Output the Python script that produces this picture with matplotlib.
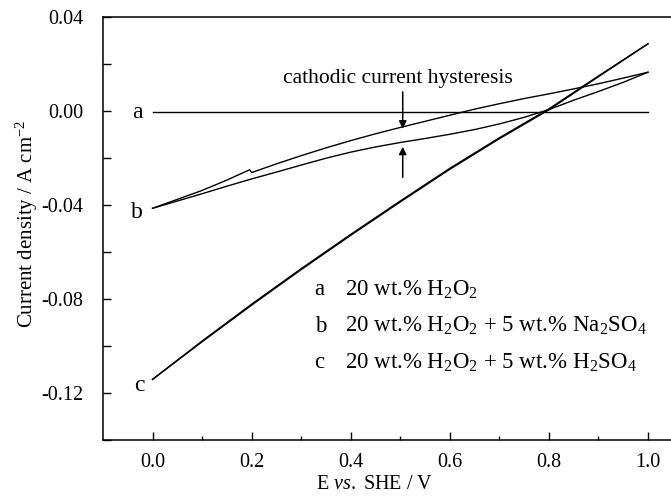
import matplotlib
matplotlib.use("Agg")
import matplotlib.pyplot as plt
import numpy as np

plt.rcParams['font.family'] = ['Liberation Serif', 'DejaVu Serif']
plt.rcParams['mathtext.fontset'] = 'custom'
plt.rcParams['mathtext.rm'] = 'Liberation Serif'
plt.rcParams['mathtext.it'] = 'Liberation Serif:italic'
plt.rcParams['mathtext.default'] = 'regular'

# curve a: 20 wt.% H2O2
E_a = [0.0, 1.0]
j_a = [-0.0005, -0.0005]

# curve b: forward (upper) and reverse (lower) scan
E_b_fwd = [0.0, 0.05, 0.1, 0.15, 0.196, 0.2, 0.25, 0.3, 0.35, 0.4, 0.45, 0.5,
           0.55, 0.6, 0.65, 0.7, 0.75, 0.8, 0.85, 0.9, 0.95, 1.0]
j_b_fwd = [-0.0414, -0.0376, -0.0338, -0.0294, -0.0250, -0.0262, -0.0225,
           -0.0190, -0.0157, -0.0126, -0.0097, -0.0070, -0.0044, -0.0018,
           0.0008, 0.0031, 0.0053, 0.0073, 0.0094, 0.0116, 0.0140, 0.0165]
E_b_rev = [1.0, 0.95, 0.9, 0.85, 0.8, 0.75, 0.7, 0.65, 0.6, 0.55, 0.5, 0.45,
           0.4, 0.35, 0.3, 0.25, 0.2, 0.15, 0.1, 0.05, 0.0]
j_b_rev = [0.0165, 0.0122, 0.0083, 0.0046, 0.0006, -0.0027, -0.0055, -0.0079,
           -0.0099, -0.0117, -0.0134, -0.0153, -0.0175, -0.0201, -0.0230,
           -0.0260, -0.0289, -0.0320, -0.0352, -0.0383, -0.0414]

# curve c: forward and reverse scan (almost on top of each other)
E_c_fwd = [0.0, 0.1, 0.2, 0.3, 0.4, 0.5, 0.6, 0.7, 0.8, 0.9, 1.0]
j_c_fwd = [-0.1142, -0.0982, -0.0826, -0.0675, -0.0529, -0.0387, -0.0248,
           -0.0118, 0.0005, 0.0146, 0.0286]
E_c_rev = [1.0, 0.9, 0.8, 0.7, 0.6, 0.5, 0.4, 0.3, 0.2, 0.1, 0.0]
j_c_rev = [0.0286, 0.0149, 0.0009, -0.0114, -0.0244, -0.0383, -0.0525,
           -0.0671, -0.0822, -0.0979, -0.1142]

legend_keys = ['a', 'b', 'c']
legend_texts = [r'20 wt.% H$_2$O$_2$',
                r'20 wt.% H$_2$O$_2$ + 5 wt.% Na$_2$SO$_4$',
                r'20 wt.% H$_2$O$_2$ + 5 wt.% H$_2$SO$_4$']

fig = plt.figure(figsize=(6.71, 4.96), dpi=100)
# axes runs past the right edge like in the original scan
ax = fig.add_axes([0.1535, 0.1129, 0.886, 0.8528])

lw = 1.0
ax.plot(E_a, j_a, color='k', lw=lw)
ax.plot(E_b_fwd, j_b_fwd, color='k', lw=lw)
ax.plot(E_b_rev, j_b_rev, color='k', lw=lw)
ax.plot(E_c_fwd, j_c_fwd, color='k', lw=lw)
ax.plot(E_c_rev, j_c_rev, color='k', lw=lw)

ax.set_xlim(-0.1, 1.1)
ax.set_ylim(-0.14, 0.04)
ax.set_xticks(np.arange(0.0, 1.01, 0.2))
ax.set_xticks(np.arange(0.1, 1.01, 0.2), minor=True)
ax.set_yticks(np.arange(-0.12, 0.041, 0.04))
ax.set_yticks([-0.14, -0.10, -0.06, -0.02, 0.02], minor=True)
ax.set_xticklabels(['0.0', '0.2', '0.4', '0.6', '0.8', '1.0'])
ax.set_yticklabels(['-0.12', '-0.08', '-0.04', '0.00', '0.04'])

ax.tick_params(which='major', direction='in', length=6, width=1.0,
               labelsize=14.5)
ax.tick_params(axis='x', which='major', pad=9)
ax.tick_params(axis='y', which='major', pad=14)
ax.tick_params(axis='x', which='minor', direction='in', length=3, width=1.0)
ax.tick_params(axis='y', which='minor', direction='in', length=6, width=1.0)
ax.tick_params(top=False, right=False, which='both')
for s in ax.spines.values():
    s.set_linewidth(1.1)

ax.set_xlabel(r'E $\mathit{vs.}$ SHE / V', fontsize=14.5)
ax.xaxis.set_label_coords(0.4575, -0.082)
ax.set_ylabel(r'Current density / A cm$^{-2}$', fontsize=15)
ax.yaxis.set_label_coords(-0.106, 0.51)

# curve letters
ax.text(-0.02, -0.0005, 'a', fontsize=17, ha='right', va='center')
ax.text(-0.02, -0.043, 'b', fontsize=17, ha='right', va='center')
ax.text(-0.015, -0.117, 'c', fontsize=17, ha='right', va='center')

# hysteresis annotation
ax.text(0.495, 0.0137, 'cathodic current hysteresis', fontsize=15.5,
        ha='center', va='center')
arrow = dict(arrowstyle='-|>', color='k', lw=1.1, mutation_scale=11,
             shrinkA=0, shrinkB=0)
ax.annotate('', xy=(0.505, -0.0075), xytext=(0.505, 0.0081), arrowprops=arrow)
ax.annotate('', xy=(0.505, -0.0152), xytext=(0.505, -0.0282), arrowprops=arrow)

# legend as plain text
for i, (k, t) in enumerate(zip(legend_keys, legend_texts)):
    y = -0.076 - i * 0.0155
    ax.text(0.327, y, k, fontsize=16.5, ha='left', va='center')
    ax.text(0.388, y, t, fontsize=16.5, ha='left', va='center')

fig.savefig('out.png', dpi=100)
